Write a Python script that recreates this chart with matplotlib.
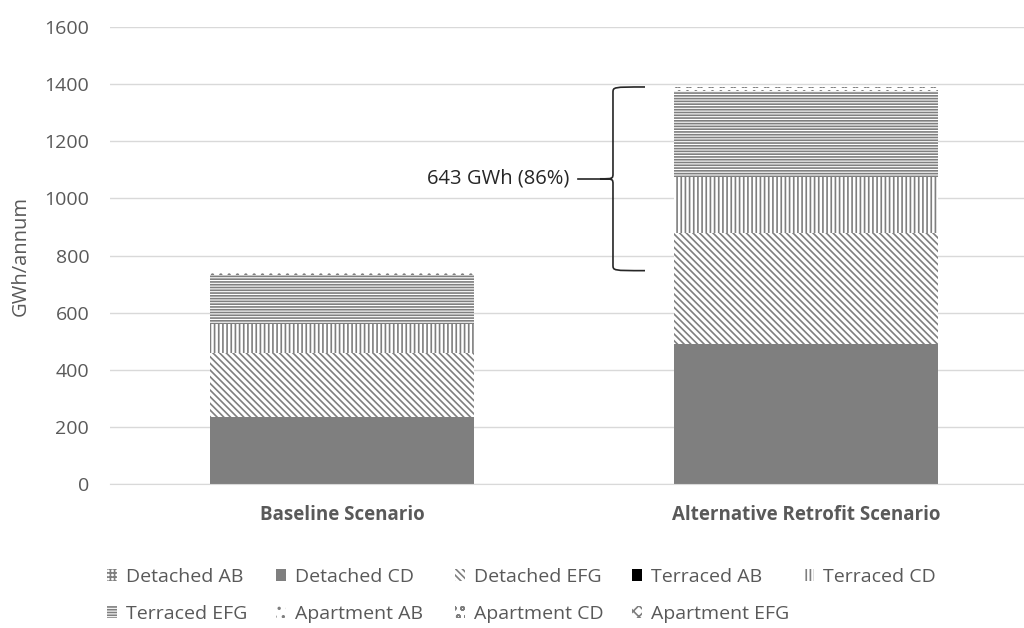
import matplotlib
matplotlib.use('Agg')
import matplotlib.pyplot as plt
import numpy as np
from matplotlib.path import Path
from matplotlib.patches import PathPatch, Patch

plt.rcParams['font.family'] = ['Open Sans', 'DejaVu Sans']
plt.rcParams['hatch.linewidth'] = 1.2

scenarios = ['Baseline Scenario', 'Alternative Retrofit Scenario']
series_names = ['Detached AB', 'Detached CD', 'Detached EFG',
                'Terraced AB', 'Terraced CD', 'Terraced EFG',
                'Apartment AB', 'Apartment CD', 'Apartment EFG']
# GWh/annum, one entry per scenario
detached_ab = [0, 0]
detached_cd = [234, 490]
detached_efg = [224, 389]
terraced_ab = [0, 0]
terraced_cd = [101, 196]
terraced_efg = [174, 300]
apartment_ab = [8, 9]
apartment_cd = [3, 3]
apartment_efg = [3, 3]
yticks = [0, 200, 400, 600, 800, 1000, 1200, 1400, 1600]

series = [detached_ab, detached_cd, detached_efg, terraced_ab, terraced_cd,
          terraced_efg, apartment_ab, apartment_cd, apartment_efg]

GREY = '#7f7f7f'
TXT = '#595959'
BS = chr(92)
# (facecolor, hatch) for each series
styles = [
    ('white', '++++'),
    (GREY, None),
    ('white', BS * 5),
    ('black', None),
    ('white', '||||'),
    ('white', '------'),
    ('white', '..'),
    ('white', 'oo'),
    ('white', 'xxx'),
]

fig = plt.figure(figsize=(10.24, 6.28), dpi=100)
# plot area runs slightly past the right edge, as in the source image
ax = fig.add_axes([0.1074, 0.2293, 0.9063, 0.7277])

x = np.arange(len(scenarios))
width = 0.571
bottom = np.zeros(len(scenarios))
for name, vals, (fc, hatch) in zip(series_names, series, styles):
    ax.bar(x, vals, width, bottom=bottom, color=fc, hatch=hatch,
           edgecolor=GREY if hatch else fc, linewidth=0, label=name, zorder=2)
    bottom += np.array(vals)

ax.set_xlim(-0.5, 1.5)
ax.set_ylim(0, 1600)
ax.set_yticks(yticks)
ax.yaxis.grid(True, color='#d9d9d9', linewidth=1, zorder=0)
ax.set_axisbelow(True)
for s in ['top', 'right', 'left']:
    ax.spines[s].set_visible(False)
ax.spines['bottom'].set_color('#d9d9d9')
ax.tick_params(axis='both', length=0, colors=TXT, labelsize=14)
ax.tick_params(axis='y', pad=15)
ax.set_xticks(x)
ax.set_xticklabels(scenarios, fontweight='bold', fontsize=13.5, color=TXT)
ax.tick_params(axis='x', pad=15)
ax.set_ylabel('GWh/annum', fontsize=14.5, color=TXT, labelpad=10)

# curly brace showing the increase
lo = bottom[0]
hi = bottom[1]
mid = (lo + hi) / 2
xe, xv, xt = 0.653, 0.584, 0.556
r = 20
verts = [(xe, hi), (xv, hi), (xv, hi), (xv, hi - r),
         (xv, mid + r),
         (xv, mid), (xv, mid), (xt, mid),
         (xv, mid), (xv, mid), (xv, mid - r),
         (xv, lo + r),
         (xv, lo), (xv, lo), (xe, lo)]
codes = [Path.MOVETO, Path.CURVE4, Path.CURVE4, Path.CURVE4,
         Path.LINETO,
         Path.CURVE4, Path.CURVE4, Path.CURVE4,
         Path.CURVE4, Path.CURVE4, Path.CURVE4,
         Path.LINETO,
         Path.CURVE4, Path.CURVE4, Path.CURVE4]
ax.add_patch(PathPatch(Path(verts, codes), fill=False, edgecolor='#262626', lw=1.2, zorder=3))
ax.plot([0.509, xt], [mid, mid], color='#262626', lw=1.2, zorder=3)
diff = hi - lo
ax.text(0.491, mid, '%d GWh (%d%%)' % (round(diff), round(diff / lo * 100)),
        ha='right', va='center', fontsize=14.5, color='#262626')

# legend: 5 columns, filled row by row
handles = [Patch(facecolor=fc, hatch=h, edgecolor=GREY if h else fc, linewidth=0, label=n)
           for n, (fc, h) in zip(series_names, styles)]
col_x = [107, 276, 455, 632, 804]
for j, cx in enumerate(col_x):
    hs = handles[j::5]
    leg = fig.legend(handles=hs, loc='upper left', bbox_to_anchor=(cx / 1024, 1 - 568 / 628),
                     frameon=False, fontsize=14, labelcolor=TXT, handlelength=0.52,
                     handleheight=0.52, handletextpad=0.45, labelspacing=0.98,
                     borderpad=0, borderaxespad=0)

fig.savefig('out.png', dpi=100)
